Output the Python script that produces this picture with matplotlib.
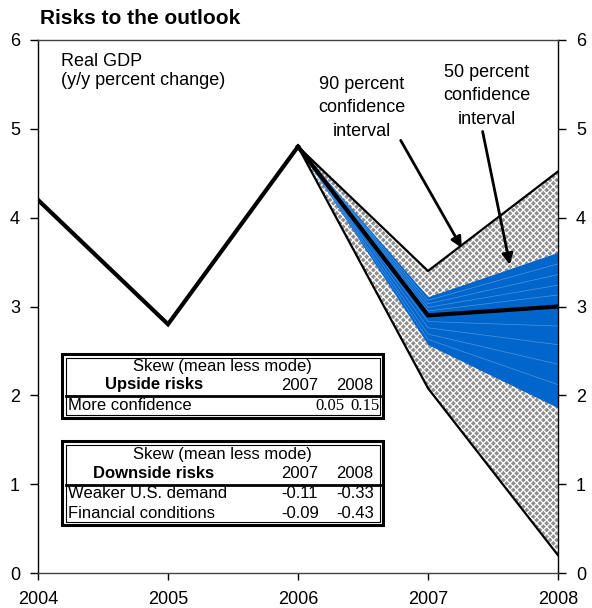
import matplotlib.pyplot as plt
from matplotlib.patches import Rectangle
from matplotlib.lines import Line2D

plt.rcParams['font.family'] = ['Liberation Sans', 'DejaVu Sans']
plt.rcParams['hatch.linewidth'] = 0.9

# Real GDP history and baseline projection
hist_years = [2004, 2005, 2006]
hist_gdp = [4.2, 2.8, 4.8]
proj_years = [2006, 2007, 2008]
proj_gdp = [4.8, 2.9, 3.0]

# 90 percent confidence band
ci90_upper = [4.8, 3.4, 4.52]
ci90_lower = [4.8, 2.08, 0.2]

# 50 percent band, fan lines from the top edge down to the bottom edge
fan_2007 = [3.11, 3.07, 3.03, 2.99, 2.95, 2.9, 2.83, 2.76, 2.69, 2.63, 2.57]
fan_2008 = [3.61, 3.48, 3.36, 3.24, 3.13, 3.0, 2.78, 2.57, 2.35, 2.12, 1.86]

# skew tables
up_years = ['2007', '2008']
up_rows = ['More confidence']
up_vals = [['0.05', '0.15']]
down_rows = ['Weaker U.S. demand', 'Financial conditions']
down_vals = [['-0.11', '-0.33'], ['-0.09', '-0.43']]

W, H = 592, 608
fig = plt.figure(figsize=(W / 100, H / 100), dpi=100)
ax = fig.add_axes([38 / W, 1 - 573 / H, 520 / W, 533 / H])

blue = '#0066cc'

# 90% band with hatch
ax.fill_between(proj_years, ci90_lower, ci90_upper, facecolor='#8e8e8e',
                edgecolor='white', linewidth=0, hatch='xxxxx', zorder=1)

# 50% fan
lines = [[4.8, a, b] for a, b in zip(fan_2007, fan_2008)]
ax.fill_between(proj_years, lines[-1], lines[0], color=blue, linewidth=0, zorder=2)
for i, ln in enumerate(lines):
    if i in (0, 5, len(lines) - 1):
        continue
    ax.plot(proj_years, ln, color='#4f93de', lw=0.5, zorder=3)

# band edges
ax.plot(proj_years, ci90_upper, color='black', lw=1.6, zorder=4)
ax.plot(proj_years, ci90_lower, color='black', lw=1.6, zorder=4)

# GDP line
ax.plot(hist_years, hist_gdp, color='black', lw=3, zorder=5, solid_joinstyle='miter')
ax.plot(proj_years, proj_gdp, color='black', lw=3, zorder=5, solid_joinstyle='miter')

ax.set_xlim(2004, 2008)
ax.set_ylim(0, 6)
ax.set_xticks([2004, 2005, 2006, 2007, 2008])
ax.set_yticks(range(0, 7))
ax.tick_params(axis='y', left=True, right=True, labelleft=True, labelright=True,
               direction='out', length=6, width=1, pad=7, labelsize=13)
ax.tick_params(axis='x', direction='out', length=5, width=1, pad=8, labelsize=13)
for s in ax.spines.values():
    s.set_linewidth(1)
ax.spines['top'].set_color('#444444')
ax.spines['bottom'].set_color('#444444')

# annotations
ax.text(2004.18, 5.65, 'Real GDP\n(y/y percent change)', fontsize=13,
        ha='left', va='center', linespacing=1.2)
ax.text(2006.49, 5.24, '90 percent\nconfidence\ninterval', fontsize=13,
        ha='center', va='center', linespacing=1.5)
ax.text(2007.45, 5.37, '50 percent\nconfidence\ninterval', fontsize=13,
        ha='center', va='center', linespacing=1.47)
arrow = dict(arrowstyle='-|>', color='black', lw=2, mutation_scale=16, shrinkA=0, shrinkB=0)
ax.annotate('', xy=(2007.26, 3.66), xytext=(2006.79, 4.87), arrowprops=arrow, zorder=6)
ax.annotate('', xy=(2007.63, 3.47), xytext=(2007.42, 4.97), arrowprops=arrow, zorder=6)

fig.text(40 / W, 1 - 18 / H, 'Risks to the outlook', fontsize=15, fontweight='bold',
         ha='left', va='center')


def fx(px):
    return px / W


def fy(py):
    return 1 - py / H


def box(top, bottom, sep):
    left, right = 62, 383
    fig.add_artist(Rectangle((fx(left), fy(bottom)), fx(right) - fx(left), fy(top) - fy(bottom),
                             transform=fig.transFigure, facecolor='white', edgecolor='black',
                             lw=2.2, zorder=7))
    fig.add_artist(Rectangle((fx(left + 3.5), fy(bottom - 3.5)), fx(right - left - 7),
                             fy(top + 3.5) - fy(bottom - 3.5), transform=fig.transFigure,
                             facecolor='none', edgecolor='black', lw=0.8, zorder=8))
    fig.add_artist(Line2D([fx(left + 3.5), fx(right - 3.5)], [fy(sep), fy(sep)],
                          transform=fig.transFigure, color='black', lw=2, zorder=8))


def txt(x, y, s, **kw):
    kw.setdefault('fontsize', 12)
    kw.setdefault('va', 'center')
    fig.text(fx(x), fy(y), s, zorder=9, **kw)


# upside table
box(354, 418, 396)
txt(222, 367, 'Skew (mean less mode)', ha='center')
txt(154, 385, 'Upside risks', ha='center', fontweight='bold')
txt(300, 385, up_years[0], ha='center')
txt(355, 385, up_years[1], ha='center')
for i, name in enumerate(up_rows):
    txt(68, 406 + i * 19, name, ha='left')
    txt(345, 406 + i * 19, up_vals[i][0], ha='right', family='Liberation Serif', fontsize=12)
    txt(380, 406 + i * 19, up_vals[i][1], ha='right', family='Liberation Serif', fontsize=12)

# downside table
box(441, 525, 485)
txt(222, 455, 'Skew (mean less mode)', ha='center')
txt(154, 474, 'Downside risks', ha='center', fontweight='bold')
txt(300, 474, up_years[0], ha='center')
txt(355, 474, up_years[1], ha='center')
for i, name in enumerate(down_rows):
    txt(68, 494 + i * 19, name, ha='left')
    txt(300, 494 + i * 19, down_vals[i][0], ha='center')
    txt(355, 494 + i * 19, down_vals[i][1], ha='center')

fig.savefig('out.png', dpi=100)
